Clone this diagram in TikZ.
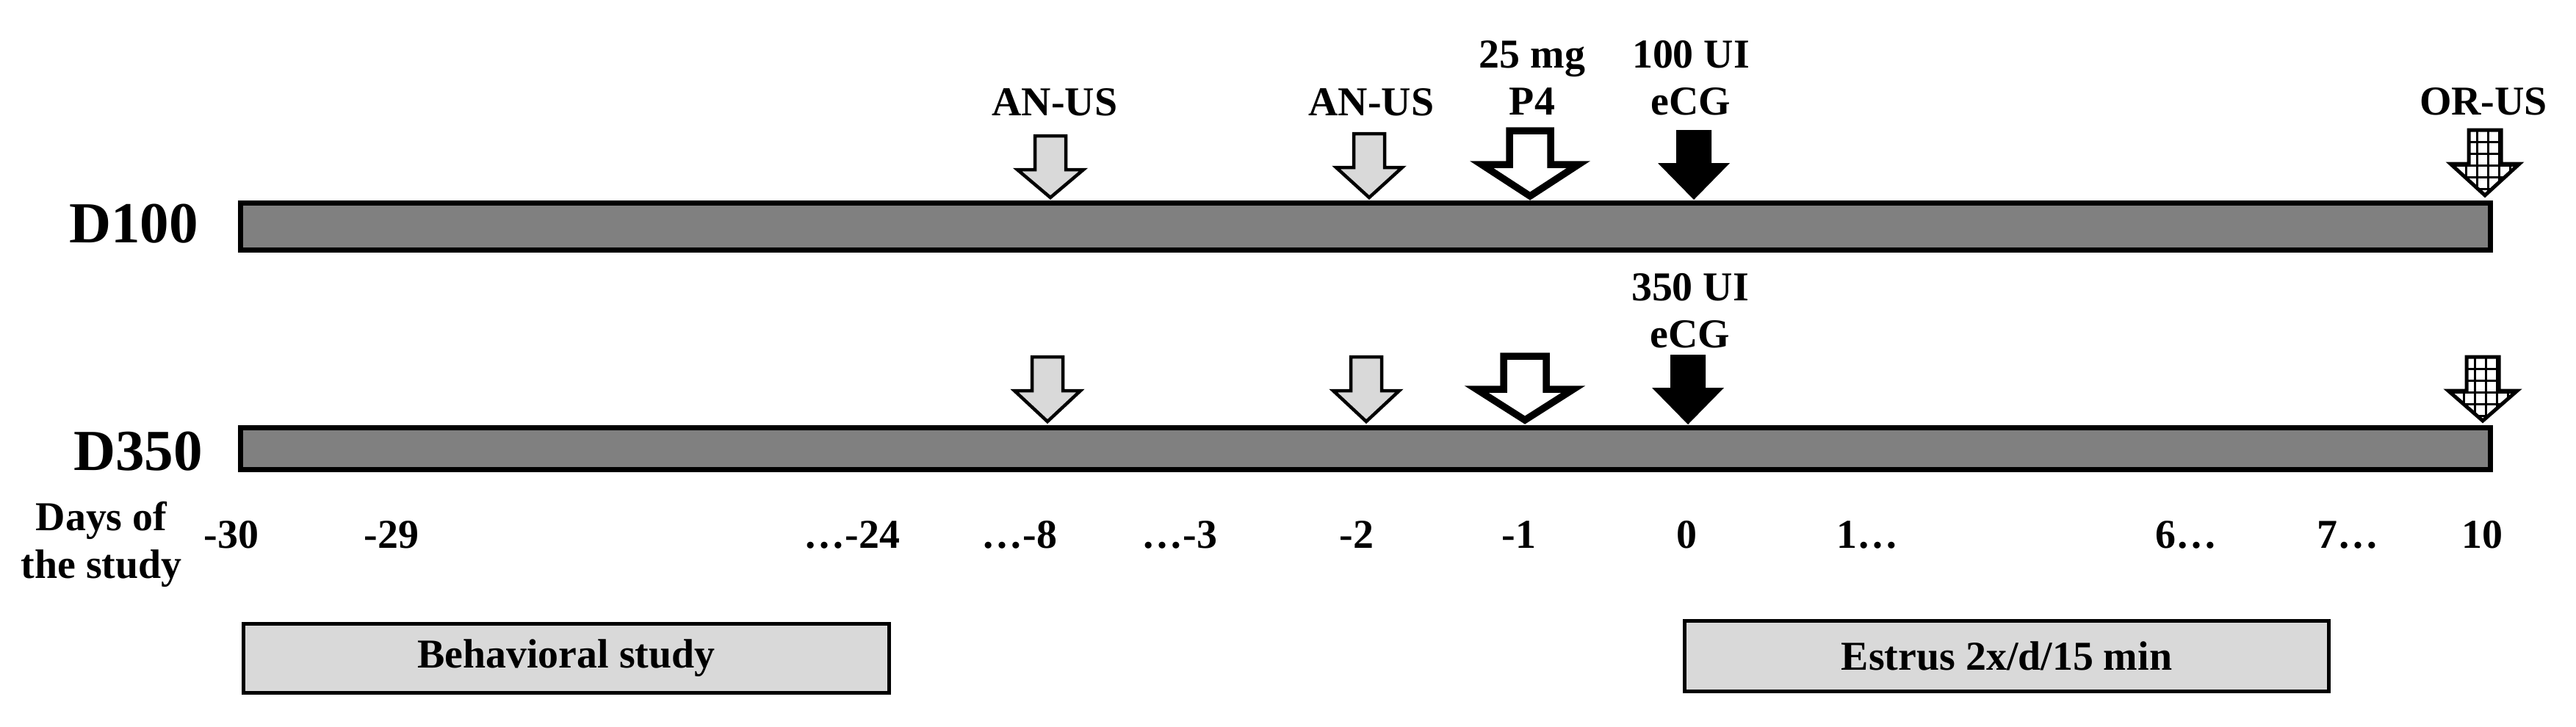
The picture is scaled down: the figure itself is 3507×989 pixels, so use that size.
\documentclass[tikz,border=0pt]{standalone}
\usepackage{fontspec}
\setmainfont{Liberation Serif}
\usetikzlibrary{positioning}

\definecolor{bargray}{RGB}{128,128,128}
\definecolor{palegray}{RGB}{217,217,217}

% block arrow pointing down: tip x, tip y, top y, neck y, shaft half width, head half width
\newcommand{\arrowpath}[6]{(#1-#5,#3) -- (#1+#5,#3) -- (#1+#5,#4) -- (#1+#6,#4) -- (#1,#2) -- (#1-#6,#4) -- (#1-#5,#4) -- cycle}
\newcommand{\gridarrow}[4]{%
  \begin{scope}
    \clip \arrowpath{#1}{#2}{#3}{#4}{22}{47};
    \fill[white] (#1-60,#3-10) rectangle (#1+60,#2+10);
    \foreach \k in {-26,-11,4,19,34} \draw[gridline] (#1+\k,#3-10) -- (#1+\k,#2+10);
    \foreach \k in {1,...,5} \draw[gridline] (#1-60,{#3+16*\k}) -- (#1+60,{#3+16*\k});
  \end{scope}
  \draw[lightarrow,fill=none,line width=0.5mm] \arrowpath{#1}{#2}{#3}{#4}{22}{47};}

\tikzset{
  txt/.style={font=\bfseries\fontsize{15.9}{18}\selectfont, inner sep=0pt, anchor=base},
  grouplbl/.style={txt, font=\bfseries\fontsize{22.5}{26}\selectfont},
  timebar/.style={draw=black, line width=0.7mm, fill=bargray},
  lightarrow/.style={draw=black, line width=0.45mm, fill=palegray, line join=miter},
  openarrow/.style={draw=black, line width=0.95mm, fill=white, line join=miter},
  solidarrow/.style={fill=black},
  gridline/.style={draw=black, line width=0.3mm},
  phasebox/.style={draw=black, line width=0.5mm, fill=palegray, inner sep=0pt,
    font=\bfseries\fontsize{15.9}{18}\selectfont}
}

\begin{document}
\begin{tikzpicture}[x=0.1mm, y=-0.1mm]
  \useasboundingbox (0,0) rectangle (3507,989);

  % groups and time bars
  \node[grouplbl] (d100) at (182,330) {D100};
  \node[grouplbl] (d350) at (188,640) {D350};
  \draw[timebar] (327.5,276.5) rectangle (3390.5,340.5);
  \draw[timebar] (327.5,582.5) rectangle (3390.5,639.5);

  % D100 arrows
  \draw[lightarrow] \arrowpath{1430}{269}{185}{231}{21}{45};
  \draw[lightarrow] \arrowpath{1864}{269}{182}{228}{21}{45};
  \draw[openarrow] \arrowpath{2083}{267}{178}{224}{28}{66};
  \fill[solidarrow] \arrowpath{2306}{272}{177}{222}{24}{49};
  \gridarrow{3383}{266}{177}{223}

  % D350 arrows
  \draw[lightarrow] \arrowpath{1426}{574}{486}{532}{21}{45};
  \draw[lightarrow] \arrowpath{1860}{574}{486}{532}{21}{45};
  \draw[openarrow] \arrowpath{2076}{572}{485}{530}{29}{66};
  \fill[solidarrow] \arrowpath{2298}{578}{483}{528}{24}{49};
  \gridarrow{3380}{573}{486}{532}

  % treatments
  \node[txt] (anus1) at (1436,157) {AN-US};
  \node[txt] (anus2) at (1867,157) {AN-US};
  \node[txt] (p4dose) at (2086,92) {25 mg};
  \node[txt] (p4) at (2086,156) {P4};
  \node[txt] (ecgdose1) at (2302,92) {100 UI};
  \node[txt] (ecg1) at (2302,156) {eCG};
  \node[txt] (orus) at (3381,156) {OR-US};
  \node[txt] (ecgdose2) at (2301,409) {350 UI};
  \node[txt] (ecg2) at (2301,473) {eCG};

  % days
  \node[txt] (days) at (138,722) {Days of};
  \node[txt] (study) at (138,787) {the study};
  \foreach \dx/\dl in {315/-30, 533/-29, 1160/…-24, 1388/…-8, 1606/…-3, 1847/-2,
                       2068/-1, 2296/0, 2542/1…, 2976/6…, 3196/7…, 3379/10}
    \node[txt] (day\dx) at (\dx,746) {\dl};

  % phases
  \node[phasebox, minimum width=879*0.1mm, minimum height=94*0.1mm] (behav) at (771,896.5) {Behavioral study};
  \node[phasebox, minimum width=877*0.1mm, minimum height=96*0.1mm] (estrus) at (2732,893.5) {Estrus 2x/d/15 min};
\end{tikzpicture}
\end{document}
